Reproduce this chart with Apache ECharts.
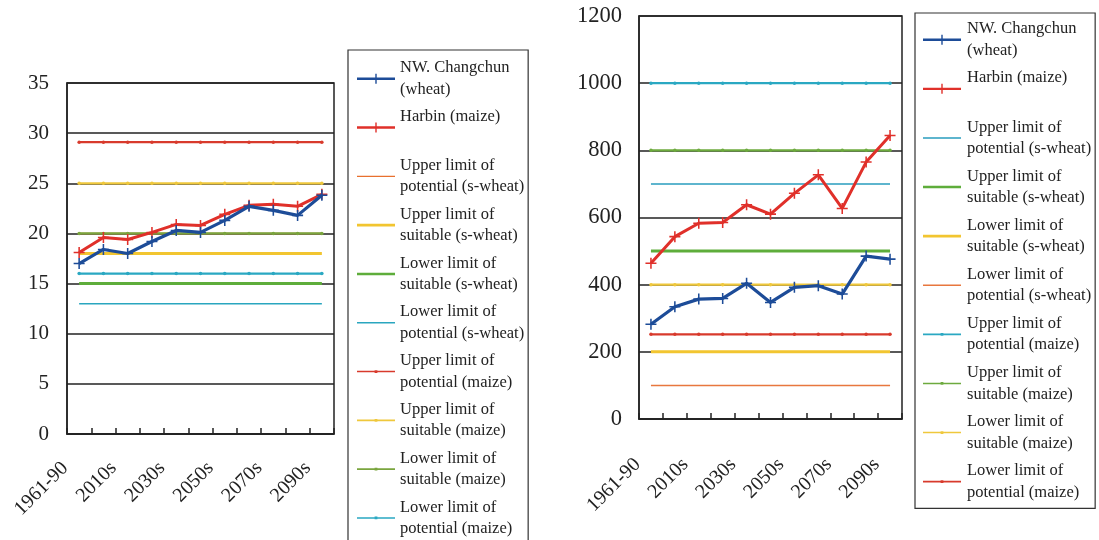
<!DOCTYPE html>
<html>
<head>
<meta charset="utf-8">
<script src="https://cdn.jsdelivr.net/npm/echarts@6/dist/echarts.min.js"></script>
<style>
  html, body { margin: 0; padding: 0; background: #fff; overflow: hidden; }
  #wrap { position: relative; width: 1099px; height: 540px; overflow: hidden; }
  #left { position: absolute; left: 0; top: 0; width: 560px; height: 620px; }
  #right { position: absolute; left: 560px; top: 0; width: 539px; height: 540px; }
</style>
</head>
<body>
<div id="wrap"><div id="left"></div><div id="right"></div></div>
<script>
// Time periods on the category axis
const periods = ['1961-90', '2000s', '2010s', '2020s', '2030s', '2040s', '2050s', '2060s', '2070s', '2080s', '2090s'];

// Left panel
const leftYTicks = { min: 0, max: 35, step: 5 };
const leftChangchun = [17.0, 18.4, 18.0, 19.2, 20.3, 20.1, 21.3, 22.7, 22.3, 21.8, 23.8];
const leftHarbin = [18.1, 19.6, 19.4, 20.1, 20.9, 20.8, 21.9, 22.8, 22.9, 22.7, 23.9];
// spring-wheat limits: upper potential, upper suitable, lower suitable, lower potential
const leftWheatLimits = [20, 18, 15, 13];
// maize limits: upper potential, upper suitable, lower suitable, lower potential
const leftMaizeLimits = [29.1, 25, 20, 16];

// Right panel
const rightYTicks = { min: 0, max: 1200, step: 200 };
const rightChangchun = [282, 334, 357, 359, 404, 347, 392, 397, 372, 485, 476];
const rightHarbin = [464, 543, 583, 585, 638, 610, 672, 727, 627, 765, 844];
const rightWheatLimits = [700, 500, 200, 100];
const rightMaizeLimits = [1000, 800, 400, 252];

// Legend labels
const seriesNames = [
  'NW. Changchun\n(wheat)',
  'Harbin (maize)\n ',
  'Upper limit of\npotential (s-wheat)',
  'Upper limit of\nsuitable (s-wheat)',
  'Lower limit of\nsuitable (s-wheat)',
  'Lower limit of\npotential (s-wheat)',
  'Upper limit of\npotential (maize)',
  'Upper limit of\nsuitable (maize)',
  'Lower limit of\nsuitable (maize)',
  'Lower limit of\npotential (maize)'
];

const FONT = "'Liberation Serif', 'Times New Roman', serif";
const INK = '#222';

// marker and legend glyphs
const PLUS = 'path://M4.3,0 L5.7,0 L5.7,4.3 L10,4.3 L10,5.7 L5.7,5.7 L5.7,10 L4.3,10 L4.3,5.7 L0,5.7 L0,4.3 L4.3,4.3 Z';
const CORNERS = ' M0,0 L0.01,0 L0,0.01 Z M38,10 L37.99,10 L38,9.99 Z';
const ICON_DATA = 'path://M0,3.8 L38,3.8 L38,6.2 L0,6.2 Z M18.3,0 L19.7,0 L19.7,10 L18.3,10 Z';
const ICON_THICK = 'path://M0,3.7 L38,3.7 L38,6.3 L0,6.3 Z' + CORNERS;
const ICON_THIN = 'path://M0,4.3 L38,4.3 L38,5.7 L0,5.7 Z' + CORNERS;
const ICON_DOT = 'path://M0,4.2 L38,4.2 L38,5.8 L0,5.8 Z M17.6,3.6 L20.4,3.6 L20.4,6.4 L17.6,6.4 Z' + CORNERS;

function lineSeries(name, values, color, width, symbol, symbolSize, z) {
  return {
    type: 'line', name: name, data: values, z: z,
    color: color,
    lineStyle: { color: color, width: width },
    itemStyle: { color: color },
    symbol: symbol, symbolSize: symbolSize, showSymbol: symbol !== 'none',
    emphasis: { disabled: true }, silent: true, animation: false
  };
}

function buildPanel(el, cfg) {
  const chart = echarts.init(el, null, { renderer: 'canvas' });
  const flat = (v) => periods.map(() => v);
  const series = [
    lineSeries(seriesNames[0], cfg.changchun, '#1D4C98', 3.2, PLUS, 11, 5),
    lineSeries(seriesNames[1], cfg.harbin, '#E0302A', 3, PLUS, 11, 4)
  ];
  const icons = [ICON_DATA, ICON_DATA];
  cfg.wheatLimits.forEach((v, i) => {
    const s = cfg.wheatStyle[i];
    series.push(lineSeries(seriesNames[2 + i], flat(v), s.color, s.width, 'none', 0, 2));
    icons.push(s.width > 2 ? ICON_THICK : ICON_THIN);
  });
  cfg.maizeLimits.forEach((v, i) => {
    const c = cfg.maizeColors[i];
    series.push(lineSeries(seriesNames[6 + i], flat(v), c, 2.2, 'circle', 3.5, 3));
    icons.push(ICON_DOT);
  });

  chart.setOption({
    animation: false,
    backgroundColor: '#fff',
    textStyle: { fontFamily: FONT, color: INK },
    grid: {
      left: cfg.grid.left, top: cfg.grid.top, width: cfg.grid.width, height: cfg.grid.height,
      show: true, borderColor: INK, borderWidth: 1.5, backgroundColor: 'transparent'
    },
    legend: {
      orient: 'vertical',
      left: cfg.legend.left, top: cfg.legend.top,
      padding: cfg.legend.padding,
      itemGap: cfg.legend.gap,
      itemWidth: cfg.legend.itemWidth, itemHeight: 10,
      borderColor: '#333', borderWidth: 1.2,
      selectedMode: false,
      textStyle: { fontFamily: FONT, fontSize: 16.5, color: INK, lineHeight: 21.5, height: 21.5 },
      data: seriesNames.map((n, i) => ({ name: n, icon: icons[i] }))
    },
    xAxis: {
      type: 'category', data: periods, boundaryGap: true,
      axisLine: { show: true, lineStyle: { color: INK, width: 1.5 } },
      axisTick: { show: true, inside: true, length: 6, interval: 0, lineStyle: { color: INK, width: 1.5 } },
      axisLabel: {
        interval: 1, rotate: 45, margin: cfg.xLabel.margin, fontSize: 20, fontFamily: FONT, color: INK,
        padding: [0, cfg.xLabel.pad, 0, 0]
      },
      splitLine: { show: false }
    },
    yAxis: {
      type: 'value', min: cfg.y.min, max: cfg.y.max, interval: cfg.y.step,
      axisLine: { show: true, lineStyle: { color: INK, width: 1.5 } },
      axisTick: { show: false },
      axisLabel: { margin: cfg.yLabelMargin, fontSize: cfg.yFont, fontFamily: FONT, color: INK, formatter: (v) => String(v) },
      splitLine: { show: true, lineStyle: { color: INK, width: 1.5 } }
    },
    series: series
  });
  return chart;
}

buildPanel(document.getElementById('left'), {
  changchun: leftChangchun, harbin: leftHarbin,
  wheatLimits: leftWheatLimits, maizeLimits: leftMaizeLimits,
  y: leftYTicks, yLabelMargin: 18, yFont: 21,
  xLabel: { margin: 17, pad: 20 },
  grid: { left: 67, top: 83, width: 267, height: 351 },
  wheatStyle: [
    { color: '#E8702E', width: 1.5 },
    { color: '#F2C530', width: 3 },
    { color: '#5EAD3B', width: 3 },
    { color: '#2AA6BF', width: 1.5 }
  ],
  maizeColors: ['#D83A2C', '#EFC83C', '#7AA53E', '#2AA8C2'],
  legend: { left: 348, top: 50, padding: [9.5, 4, 30, 9], gap: 10.3, itemWidth: 38 }
});

buildPanel(document.getElementById('right'), {
  changchun: rightChangchun, harbin: rightHarbin,
  wheatLimits: rightWheatLimits, maizeLimits: rightMaizeLimits,
  y: rightYTicks, yLabelMargin: 17, yFont: 22.5,
  xLabel: { margin: 29, pad: 19 },
  grid: { left: 79, top: 16, width: 263, height: 403 },
  wheatStyle: [
    { color: '#2A9DBE', width: 1.5 },
    { color: '#5EAD3B', width: 3 },
    { color: '#F2C530', width: 3 },
    { color: '#E8773E', width: 1.5 }
  ],
  maizeColors: ['#2AA8C2', '#6DAA3E', '#EFC83C', '#D83A2C'],
  legend: { left: 355, top: 13, padding: [7.5, 4, 7.5, 8], gap: 10.6, itemWidth: 40 }
});
</script>
</body>
</html>
